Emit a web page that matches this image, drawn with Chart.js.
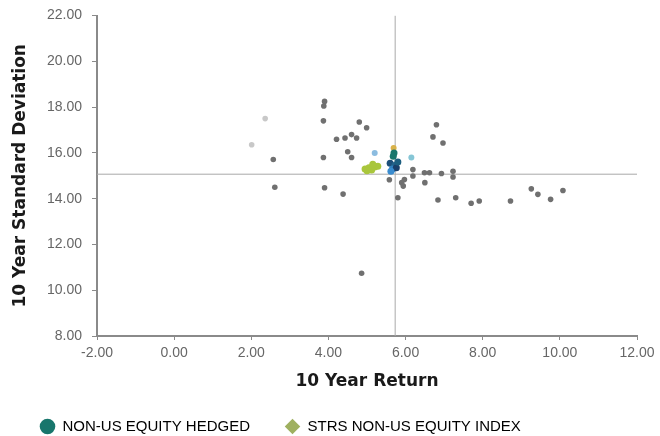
<!DOCTYPE html>
<html>
<head>
<meta charset="utf-8">
<script src="https://cdn.jsdelivr.net/npm/chart.js@4"></script>
<style>
  html, body { margin: 0; padding: 0; background: #fff; }
  #riskChart { display: block; }
</style>
</head>
<body>
<canvas id="riskChart" width="660" height="436"></canvas>
<script>
// ---------- DATA ----------
const xTicks = [-2, 0, 2, 4, 6, 8, 10, 12];
const yTicks = [8, 10, 12, 14, 16, 18, 20, 22];

// universe average (crosshair)
const avgReturn = 5.73;
const avgStdDev = 15.07;

// peer funds
const peerReturn = [3.9, 3.88, 3.87, 4.8, 4.99, 4.21, 4.43, 4.6, 4.73, 4.5, 4.6, 3.87, 3.9, 4.38,
  2.57, 2.61, 4.86, 5.8, 5.58, 5.9, 5.94, 5.97, 6.19, 6.19, 6.49, 6.5, 6.62, 6.93, 7.23, 7.23,
  6.8, 6.71, 6.97, 6.84, 7.3, 7.7, 7.91, 8.72, 9.26, 9.43, 9.76, 10.08];
const peerStdDev = [18.25, 18.05, 17.4, 17.35, 17.1, 16.6, 16.65, 16.8, 16.65, 16.05, 15.8, 15.8, 14.48, 14.2,
  15.71, 14.5, 10.74, 14.04, 14.83, 14.7, 14.55, 14.84, 15.27, 14.99, 15.13, 14.7, 15.13, 15.1, 15.2, 14.95,
  17.23, 16.7, 16.43, 13.94, 14.04, 13.8, 13.9, 13.9, 14.43, 14.19, 13.97, 14.36];

// peers shown faint
const fadedReturn = [2.36, 2.01];
const fadedStdDev = [17.5, 16.36];

// other highlighted funds near the centre
const otherReturn = [5.69, 5.2, 6.15];
const otherStdDev = [16.22, 16.0, 15.8];
const otherColors = ["#d9b24a", "#8cbce0", "#86c6d6"];

const hedgedReturn = [5.6, 5.68, 5.72, 5.66, 5.76, 5.62, 5.7, 5.8];
const hedgedStdDev = [15.55, 15.85, 15.45, 15.3, 15.35, 15.2, 16.0, 15.6];

const strsReturn = [4.95, 5.05, 5.12, 5.2, 5.28, 5.15, 5.0];
const strsStdDev = [15.3, 15.35, 15.25, 15.38, 15.42, 15.5, 15.22];

const seriesNames = ["NON-US EQUITY HEDGED", "STRS NON-US EQUITY INDEX"];
const seriesColors = ["#18766c", "#9fb060"];

function pts(xs, ys) {
  return xs.map((x, i) => ({ x, y: ys[i] }));
}

// legend gets a fixed band at the bottom instead of padding-driven height
const legendBand = {
  id: "legendBand",
  beforeInit(chart) {
    const fit = chart.legend.fit;
    chart.legend.fit = function () {
      fit.call(this);
      this.height = 52;
    };
  }
};

// ---------- CHART ----------
const tickFont = { family: "Liberation Sans", size: 14 };
const titleFont = { family: "DejaVu Sans", size: 17, weight: "bold", lineHeight: 1 };

new Chart(document.getElementById("riskChart"), {
  type: "scatter",
  plugins: [legendBand],
  data: {
    datasets: [
      {
        label: seriesNames[0],
        data: pts(hedgedReturn, hedgedStdDev),
        backgroundColor: ["#1d4f7a", "#18766c", "#23628a", "#2f80c0", "#1a3f6a", "#3a8ccf", "#18766c", "#1d5f80"],
        borderWidth: 0,
        pointRadius: 3.5,
        order: 1
      },
      {
        label: seriesNames[1],
        data: pts(strsReturn, strsStdDev),
        backgroundColor: "#a9c63c",
        borderWidth: 0,
        pointRadius: 3.5,
        order: 2
      },
      {
        label: "others",
        data: pts(otherReturn, otherStdDev),
        backgroundColor: otherColors,
        borderWidth: 0,
        pointRadius: 3,
        order: 3
      },
      {
        label: "peers",
        data: pts(peerReturn, peerStdDev),
        backgroundColor: "#707070",
        borderWidth: 0,
        pointRadius: 2.8,
        order: 4
      },
      {
        label: "faded",
        data: pts(fadedReturn, fadedStdDev),
        backgroundColor: "#c8c8c8",
        borderWidth: 0,
        pointRadius: 2.8,
        order: 5
      },
      {
        label: "avgY",
        data: [{ x: xTicks[0], y: avgStdDev }, { x: xTicks[xTicks.length - 1], y: avgStdDev }],
        showLine: true,
        borderColor: "#a9a9a9",
        borderWidth: 1,
        pointRadius: 0,
        order: 10
      },
      {
        label: "avgX",
        data: [{ x: avgReturn, y: yTicks[0] }, { x: avgReturn, y: yTicks[yTicks.length - 1] }],
        showLine: true,
        borderColor: "#a9a9a9",
        borderWidth: 1,
        pointRadius: 0,
        order: 10
      }
    ]
  },
  options: {
    responsive: false,
    animation: false,
    layout: { padding: { left: 5, right: 23, top: 13, bottom: 0 } },
    plugins: {
      tooltip: { enabled: false },
      legend: {
        position: "bottom",
        align: "start",
        labels: {
          usePointStyle: true,
          boxWidth: 17,
          boxHeight: 11,
          padding: 35,
          color: "#333",
          font: { family: "Liberation Sans", size: 15 },
          generateLabels: () => seriesNames.map((name, i) => ({
            text: name,
            fillStyle: seriesColors[i],
            strokeStyle: seriesColors[i],
            lineWidth: 0,
            pointStyle: i === 0 ? "circle" : "rectRot",
            datasetIndex: i
          }))
        }
      }
    },
    scales: {
      x: {
        type: "linear",
        min: xTicks[0],
        max: xTicks[xTicks.length - 1],
        afterBuildTicks: s => { s.ticks = xTicks.map(v => ({ value: v })); },
        afterFit: s => { s.height = 48; },
        border: { color: "#8a8a8a", width: 2 },
        grid: { drawOnChartArea: false, drawTicks: true, tickLength: 4, color: "#8a8a8a" },
        ticks: {
          padding: 5,
          color: "#666",
          font: tickFont,
          maxRotation: 0,
          callback: v => v.toFixed(2)
        },
        title: {
          display: true,
          text: "10 Year Return",
          color: "#1a1a1a",
          font: titleFont,
          padding: { top: 0, bottom: -6 }
        }
      },
      y: {
        type: "linear",
        min: yTicks[0],
        max: yTicks[yTicks.length - 1],
        afterBuildTicks: s => { s.ticks = yTicks.map(v => ({ value: v })); },
        afterFit: s => { s.width = 92; },
        border: { color: "#8a8a8a", width: 2 },
        grid: { drawOnChartArea: false, drawTicks: true, tickLength: 5, color: "#8a8a8a" },
        ticks: {
          padding: 10,
          color: "#666",
          font: { ...tickFont, lineHeight: 0.8 },
          callback: v => v.toFixed(2)
        },
        title: {
          display: true,
          text: "10 Year Standard Deviation",
          color: "#1a1a1a",
          font: titleFont,
          padding: { top: 7, bottom: 0 }
        }
      }
    }
  }
});
</script>
</body>
</html>
